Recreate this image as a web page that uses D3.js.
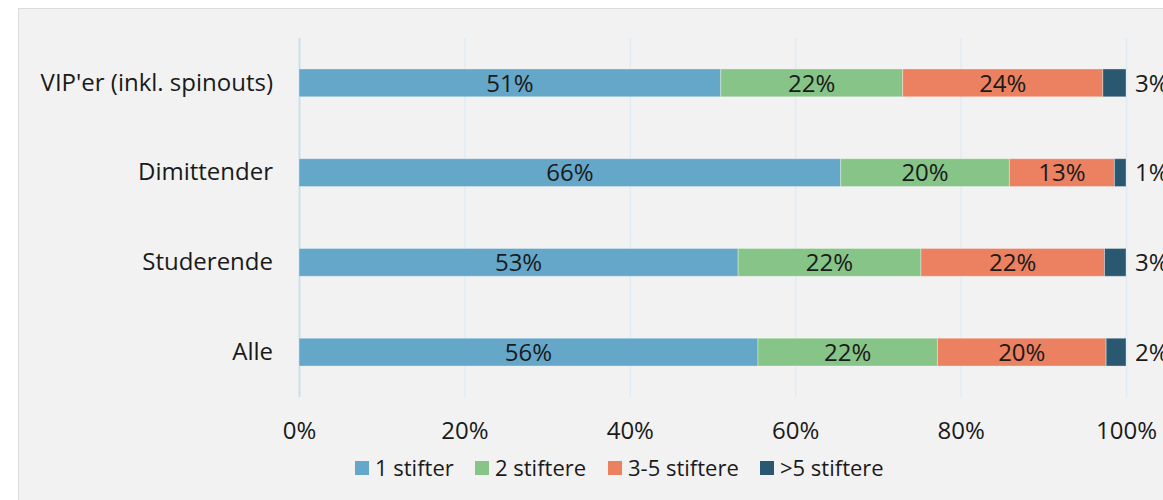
<!DOCTYPE html>
<html>
<head>
<meta charset="utf-8">
<script src="https://cdn.jsdelivr.net/npm/d3@7"></script>
<style>
  html, body { margin: 0; padding: 0; background: #fff; }
  text { font-family: "Open Sans", "Noto Sans", sans-serif; fill: #1a1a1a; }
</style>
</head>
<body>
<div id="chart"></div>
<script>
var categories = ["VIP'er (inkl. spinouts)", "Dimittender", "Studerende", "Alle"];
var seriesNames = ["1 stifter", "2 stiftere", "3-5 stiftere", ">5 stiftere"];
var seriesColors = ["#65a7c9", "#86c487", "#eb8160", "#2a5870"];
// percentages per category, in series order
var s1 = [51.0, 65.5, 53.1, 55.5];
var s2 = [22.0, 20.4, 22.1, 21.7];
var s3 = [24.2, 12.7, 22.2, 20.4];
var s4 = [2.8, 1.4, 2.6, 2.4];
var ticks = [0, 20, 40, 60, 80, 100];

var width = 1163, height = 500;
var margin = { top: 38, right: 37, bottom: 103, left: 299 };
var fs = 24;

var svg = d3.select("#chart")
    .append("svg")
    .attr("width", width)
    .attr("height", height);

// panel
svg.append("rect")
    .attr("x", 18.5).attr("y", 8.5)
    .attr("width", width).attr("height", height)
    .attr("fill", "#f2f2f2")
    .attr("stroke", "#dcdcdc");

var x = d3.scaleLinear()
    .domain([0, 100])
    .range([margin.left, width - margin.right]);

var y = d3.scaleBand()
    .domain(categories)
    .range([margin.top, height - margin.bottom])
    .paddingInner(0.69)
    .paddingOuter(0.345);

// grid
svg.append("g")
    .selectAll("line")
    .data(ticks)
    .enter()
    .append("line")
    .attr("x1", d => x(d) + 0.5).attr("x2", d => x(d) + 0.5)
    .attr("y1", margin.top).attr("y2", height - margin.bottom)
    .attr("stroke", d => d === 0 ? "#c9dfee" : "#e0ebf4")
    .attr("stroke-width", d => d === 0 ? 2 : 1.5);

// tick labels
var xAxis = svg.append("g")
    .attr("transform", `translate(0, ${height - margin.bottom})`)
    .call(d3.axisBottom(x).tickValues(ticks).tickSize(0).tickPadding(25).tickFormat(d => d + "%"));
xAxis.select(".domain").remove();
xAxis.attr("font-size", null).attr("font-family", null);
xAxis.selectAll("text").style("font-size", fs + "px").attr("fill", "#1a1a1a");

// category labels
var yAxis = svg.append("g")
    .attr("transform", `translate(${margin.left}, 0)`)
    .call(d3.axisLeft(y).tickSize(0).tickPadding(26));
yAxis.select(".domain").remove();
yAxis.attr("font-size", null).attr("font-family", null);
yAxis.selectAll("text").style("font-size", fs + "px").attr("fill", "#1a1a1a");

var rows = categories.map((c, i) => ({ cat: c, v: [s1[i], s2[i], s3[i], s4[i]] }));
var stacked = d3.stack().keys([0, 1, 2, 3]).value((d, k) => d.v[k])(rows);

var layers = svg.append("g")
    .selectAll("g")
    .data(stacked)
    .enter()
    .append("g")
    .attr("fill", d => seriesColors[d.key]);

layers.selectAll("rect")
    .data(d => d)
    .enter()
    .append("rect")
    .attr("x", d => x(d[0]))
    .attr("y", d => y(d.data.cat))
    .attr("width", d => x(d[1]) - x(d[0]))
    .attr("height", y.bandwidth())
    .attr("stroke", "rgba(255,255,255,0.35)")
    .attr("stroke-width", 1);

layers.each(function (layer) {
    var last = layer.key === 3;
    d3.select(this).selectAll("text")
        .data(layer)
        .enter()
        .append("text")
        .attr("x", d => last ? x(100) + 9 : (x(d[0]) + x(d[1])) / 2)
        .attr("y", d => y(d.data.cat) + y.bandwidth() / 2)
        .attr("dy", "0.36em")
        .attr("text-anchor", last ? "start" : "middle")
        .style("font-size", fs + "px")
        .text(d => Math.round(d[1] - d[0]) + "%");
});

// legend
var legendX = [355, 475, 608, 760];
var legend = svg.append("g")
    .selectAll("g")
    .data(seriesNames)
    .enter()
    .append("g")
    .attr("transform", (d, i) => `translate(${legendX[i]}, 461)`);
legend.append("rect")
    .attr("width", 14).attr("height", 14)
    .attr("fill", (d, i) => seriesColors[i]);
legend.append("text")
    .attr("x", 20).attr("y", 7)
    .attr("dy", "0.36em")
    .style("font-size", "22px")
    .text(d => d);
</script>
</body>
</html>
